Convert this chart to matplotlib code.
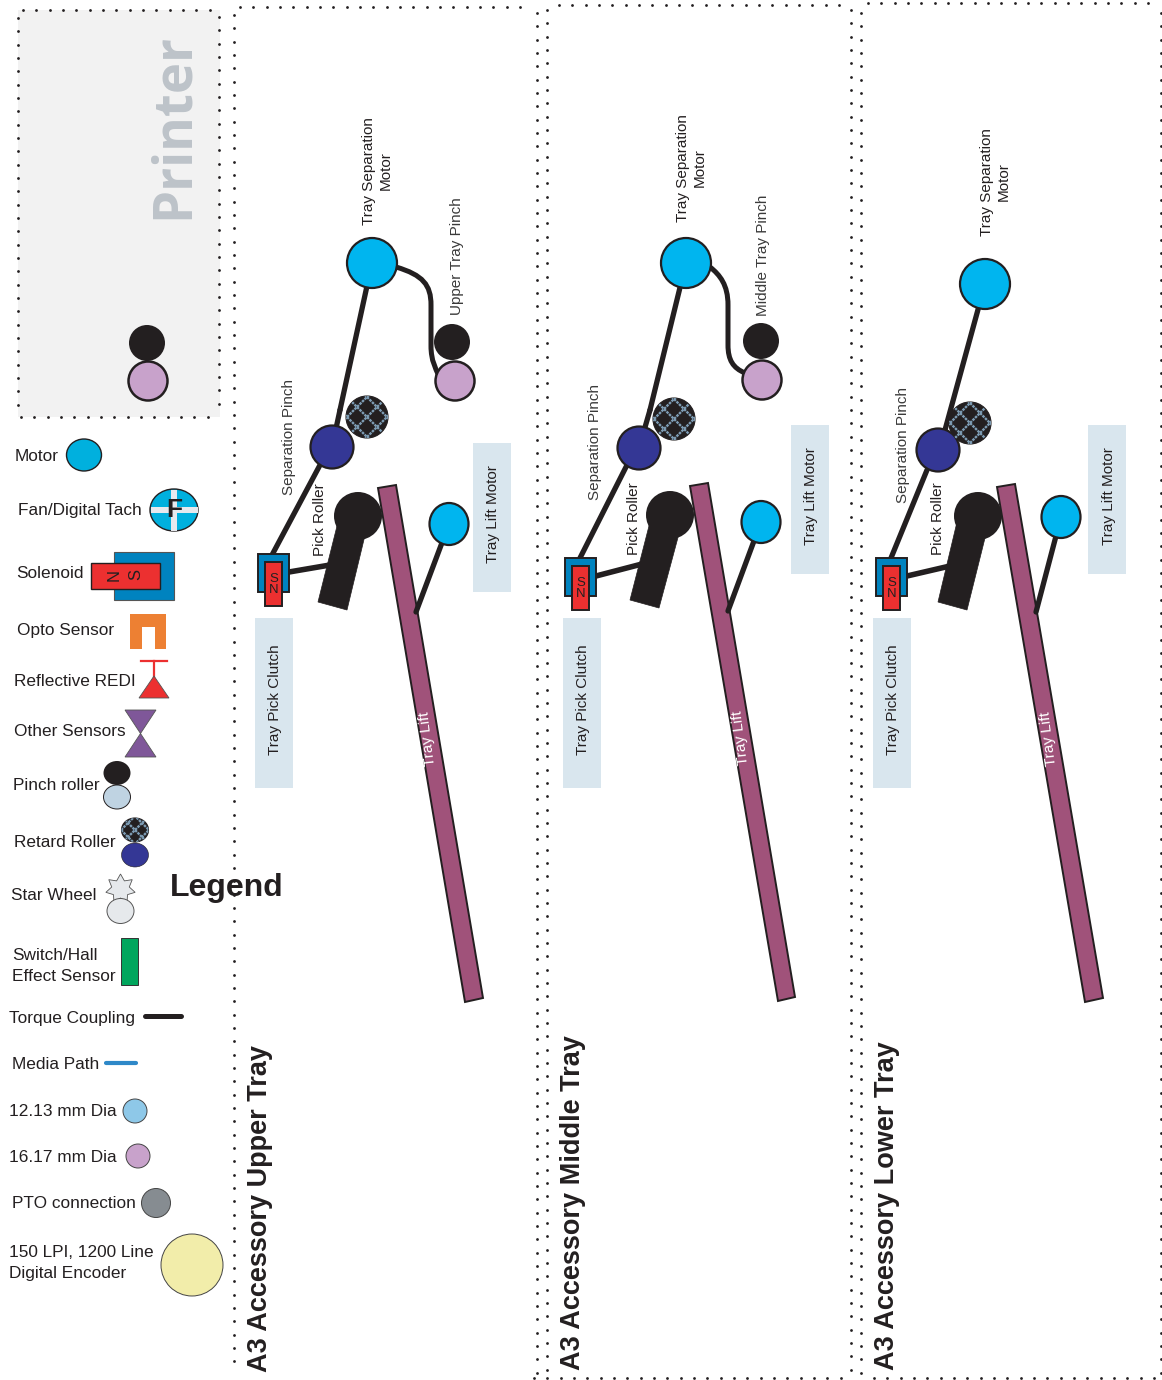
import matplotlib
matplotlib.use('Agg')
import matplotlib.pyplot as plt
import numpy as np
from matplotlib.patches import Ellipse, Polygon, Rectangle, PathPatch
from matplotlib.path import Path

plt.rcParams['font.family'] = ['Liberation Sans', 'DejaVu Sans']

INK = '#231F20'
CYAN = '#00B5EF'
NAVY = '#343795'
MAUVE = '#C8A2CB'
BOX = '#D9E6EE'
LIFT = '#A0527A'
RED = '#EC3030'
BLUE = '#0083BF'

# one entry per tray panel: upper, middle, lower
panel_titles = ['A3 Accessory Upper Tray', 'A3 Accessory Middle Tray', 'A3 Accessory Lower Tray']
title_pos = [(260, 1372), (573, 1370), (887, 1370)]
motor_pos = [(372, 263), (686, 263), (985, 284)]
motor_text_pos = [(377, 171), (691, 168), (995, 182)]
pinch_black = [(452, 342), (761, 341), None]
pinch_mauve = [(455, 381), (762, 380), None]
pinch_labels = ['Upper Tray Pinch', 'Middle Tray Pinch', None]
pinch_label_pos = [(457.5, 315), (763.5, 316), None]
coupling_x = [431, 728, None]
retard_pos = [(332, 447), (639, 448), (938, 450)]
hatch_pos = [(367, 417), (674, 419), (970, 423)]
sep_label_pos = [(289.5, 495), (594.5, 500), (902.5, 503)]
pick_label_pos = [(320, 556), (634, 555), (938, 555)]
sol_x = [258, 565, 876]
sol_y = [554, 558, 558]
pick_pos = [(358, 516), (670, 515), (978, 516)]
pick_body = [[(318, 602), (347, 610), (367, 527), (338, 522)],
             [(630, 600), (659, 608), (680, 530), (650, 522)],
             [(938, 602), (967, 610), (987, 530), (957, 522)]]
clutch_end = [(330, 565), (642, 564), (950, 566)]
lift_bar = [[(378, 488), (396, 485), (483, 998), (465, 1002)],
            [(690, 486), (708, 483), (795, 997), (778, 1001)],
            [(997, 487), (1015, 484), (1103, 998), (1085, 1002)]]
lift_text_pos = [(428, 739), (741, 738), (1049, 739)]
lift_motor = [(449, 524), (761, 522), (1061, 517)]
lift_link_end = [(416, 612), (728, 611), (1036, 612)]
clutch_box_x = [255, 563, 873]
liftm_box = [(473, 443), (791, 425), (1088, 425)]
motor_link_end = [(340, 410), (650, 410), (945, 430)]
sol_link_start = [(320, 465), (627, 465), (927, 470)]
sol_link_end = [(272, 555), (580, 558), (891, 558)]

# dotted frames: x or y of the row, start, stop
dot_vert = [(18, 18, 412), (219, 17, 412), (233.5, 15, 1372), (537, 13, 1372),
            (547, 10, 1372), (851, 10, 1372), (861, 13, 1372), (1161, 13, 1372)]
dot_horz = [(10, 23, 212), (417, 21, 212), (7, 240, 525), (5, 559, 842),
            (3, 868, 1156), (1378, 534, 852), (1378, 874, 1155)]

legend_labels = ['Motor', 'Fan/Digital Tach', 'Solenoid', 'Opto Sensor', 'Reflective REDI',
                 'Other Sensors', 'Pinch roller', 'Retard Roller', 'Star Wheel',
                 'Switch/Hall', 'Effect Sensor', 'Torque Coupling', 'Media Path',
                 '12.13 mm Dia', '16.17 mm Dia', 'PTO connection',
                 '150 LPI, 1200 Line', 'Digital Encoder']
legend_x = [15, 18, 16, 17, 14, 14, 13, 14, 11, 12, 12, 9, 12, 9, 9, 12, 9, 9]
# baselines of the labels
legend_y = [461, 515, 578, 635, 686, 736, 790, 847, 900, 960, 981, 1023, 1069, 1116,
            1162, 1208, 1257, 1278]

fig = plt.figure(figsize=(11.62, 13.8), dpi=100)
ax = fig.add_axes([0, 0, 1, 1])
ax.set_xlim(0, 1162)
ax.set_ylim(1380, 0)
ax.set_aspect('equal')
ax.axis('off')


def blob(xy, r, color, edge=INK, lw=1.6, z=4, ry=None):
    p = Ellipse(xy, 2 * r, 2 * (ry or r), facecolor=color, edgecolor=edge, linewidth=lw, zorder=z)
    ax.add_patch(p)
    return p


def link(a, b, lw=3.8, color=INK, z=3):
    ax.plot([a[0], b[0]], [a[1], b[1]], color=color, lw=lw, solid_capstyle='round', zorder=z)


def hatched(xy, r, ry=None, step=20.0):
    disc = blob(xy, r, INK, lw=0.8, ry=ry)
    for off in np.arange(-2, 3) * step:
        for sign in (1, -1):
            xs = np.array([-30, 30]) + xy[0] + off
            ys = sign * np.array([-30, 30]) + xy[1]
            ln, = ax.plot(xs, ys, color='#7E9DB5', lw=1.7, ls=(0, (1.1, 0.4)), zorder=5)
            ln.set_clip_path(disc)


def vtext(x, y, s, size=11, color=INK, **kw):
    # y is the bottom end of the rotated text
    ax.text(x, y, s, rotation=90, ha='center', va='bottom', fontsize=size, color=color,
            zorder=8, **kw)


# printer box
ax.add_patch(Rectangle((18, 10), 202, 407, facecolor='#F2F2F2', edgecolor='none', zorder=0))
ax.text(174, 219, 'Printer', rotation=90, ha='center', va='bottom', fontsize=38,
        family='Open Sans', fontweight='bold', color='#BDC3C9', zorder=1)
blob((147, 343), 18, INK, lw=0)
blob((148, 381), 19.5, MAUVE, lw=1.8)

# dotted frames
for x, y0, y1 in dot_vert:
    ys = np.arange(y0, y1 + 1, 13.33)
    ax.scatter(np.full(len(ys), x), ys, s=4, color=INK, linewidths=0, zorder=2)
for y, x0, x1 in dot_horz:
    xs = np.arange(x0, x1 + 1, 13.33)
    ax.scatter(xs, np.full(len(xs), y), s=4, color=INK, linewidths=0, zorder=2)

# tray panels
for i in range(3):
    vtext(title_pos[i][0], title_pos[i][1], panel_titles[i], size=19.5, fontweight='bold')

    ax.add_patch(Rectangle((clutch_box_x[i], 618), 38, 170, color=BOX, lw=0, zorder=1))
    vtext(clutch_box_x[i] + 20.5, 755, 'Tray Pick Clutch')
    ax.add_patch(Rectangle(liftm_box[i], 38, 149, color=BOX, lw=0, zorder=1))
    vtext(liftm_box[i][0] + 20.5, liftm_box[i][1] + 120, 'Tray Lift Motor')

    # motor and links
    link(motor_pos[i], motor_link_end[i])
    link(motor_link_end[i], retard_pos[i])
    link(sol_link_start[i], sol_link_end[i])
    blob(motor_pos[i], 25, CYAN)
    ax.text(motor_text_pos[i][0], motor_text_pos[i][1], 'Tray Separation\nMotor', rotation=90,
            ha='center', va='center', multialignment='center', fontsize=11, color=INK,
            linespacing=1.25, zorder=8)

    if pinch_black[i] is not None:
        mx, my = motor_pos[i]
        bx, by = pinch_mauve[i]
        cx = coupling_x[i]
        verts = [(mx + 24, my + 4), (cx - 8, my + 12), (cx, my + 22), (cx, my + 42),
                 (cx, my + 55), (cx, by - 48), (cx, by - 35),
                 (cx, by - 20), (cx + 5, by - 12), (bx - 17, by - 7)]
        codes = [Path.MOVETO] + [Path.CURVE4] * 9
        ax.add_patch(PathPatch(Path(verts, codes), facecolor='none', edgecolor=INK, lw=3.6, zorder=3))
        blob(pinch_black[i], 18, INK, lw=0)
        blob(pinch_mauve[i], 19.5, MAUVE, lw=1.8)
        vtext(pinch_label_pos[i][0], pinch_label_pos[i][1], pinch_labels[i], color='#3A3A3A')

    hatched(hatch_pos[i], 21)
    blob(retard_pos[i], 21.5, NAVY)
    vtext(sep_label_pos[i][0], sep_label_pos[i][1], 'Separation Pinch', color='#3A3A3A')
    vtext(pick_label_pos[i][0], pick_label_pos[i][1], 'Pick Roller')

    # solenoid and pick roller
    sx, sy = sol_x[i], sol_y[i]
    link((sx + 31, sy + 18), clutch_end[i], lw=4)
    ax.add_patch(Rectangle((sx, sy), 31, 38, facecolor=BLUE, edgecolor=INK, lw=1.4, zorder=5))
    ax.add_patch(Rectangle((sx + 7, sy + 8), 17, 44, facecolor=RED, edgecolor=INK, lw=1.4, zorder=6))
    ax.text(sx + 15.5, sy + 25, 'S', ha='center', va='center', fontsize=9.5, color=INK, zorder=7)
    ax.text(sx + 15.5, sy + 36, 'N', ha='center', va='center', fontsize=9.5, color=INK, zorder=7)
    ax.add_patch(Polygon(pick_body[i], closed=True, facecolor=INK, edgecolor=INK, lw=0.5, zorder=4))
    blob(pick_pos[i], 24, INK, lw=0)

    # tray lift
    link(lift_motor[i], lift_link_end[i], z=5)
    ax.add_patch(Polygon(lift_bar[i], closed=True, facecolor=LIFT, edgecolor=INK, lw=1.4, zorder=4))
    blob(lift_motor[i], 19.5, CYAN, ry=21, z=6)
    ax.text(lift_text_pos[i][0], lift_text_pos[i][1], 'Tray Lift', rotation=97, ha='center',
            va='center', fontsize=11, color='white', zorder=8)

# legend
ax.text(170, 888, 'Legend', fontsize=23, fontweight='bold', color=INK, va='center', zorder=8)
for label, x, y in zip(legend_labels, legend_x, legend_y):
    ax.text(x, y, label, fontsize=12.45, color=INK, va='baseline', zorder=8)

blob((84, 455), 17.5, '#00B0DE', lw=1, ry=16)

blob((174, 510), 24, '#00B0DE', lw=1, ry=21)
ax.add_patch(Rectangle((171, 490), 6, 41, color='#E6E9EE', lw=0, zorder=5))
ax.add_patch(Rectangle((151, 507), 47, 6, color='#E6E9EE', lw=0, zorder=5))
ax.text(174, 510, 'F', fontsize=19, fontweight='bold', color=INK, ha='center', va='center', zorder=6)

ax.add_patch(Rectangle((114, 552), 60, 48, facecolor=BLUE, edgecolor='#555555', lw=0.8, zorder=4))
ax.add_patch(Rectangle((91, 563), 69, 26, facecolor=RED, edgecolor=INK, lw=1, zorder=5))
ax.text(114, 575, 'N', rotation=90, fontsize=12, color=INK, ha='center', va='center', zorder=6)
ax.text(136, 575, 'S', rotation=90, fontsize=12, color=INK, ha='center', va='center', zorder=6)

ax.add_patch(Polygon([(130, 614), (166, 614), (166, 649), (155, 649), (155, 627), (142, 627),
                      (142, 649), (130, 649)], closed=True, color='#ED8033', lw=0, zorder=4))

ax.plot([141, 167], [661, 661], color=RED, lw=1.6, zorder=4)
ax.plot([154, 154], [661, 678], color=RED, lw=1.6, zorder=4)
ax.add_patch(Polygon([(139, 698), (169, 698), (154, 676)], closed=True, facecolor=RED,
                     edgecolor='#555555', lw=0.6, zorder=5))

ax.add_patch(Polygon([(125, 710), (156, 710), (125, 757), (156, 757)], closed=True,
                     facecolor='#7F5799', edgecolor='#555555', lw=0.6, zorder=4))

blob((117, 773), 13.5, INK, lw=0, ry=12)
blob((117, 797), 13.5, '#BFD3E2', lw=0.7, ry=12)
hatched((135, 830), 13.5, ry=12, step=14)
blob((135, 855), 13.5, NAVY, lw=0.4, ry=12)

ang = np.deg2rad(np.arange(0, 360, 360 / 14) - 90)
rad = np.where(np.arange(14) % 2 == 0, 15, 9)
ax.add_patch(Polygon(np.c_[120.5 + rad * np.cos(ang), 889 + rad * np.sin(ang)], closed=True,
                     facecolor='#E6E9EC', edgecolor='#555555', lw=0.6, zorder=4))
blob((120.5, 911), 13.5, '#E6E9EC', edge='#555555', lw=0.7, ry=12.5, z=5)

ax.add_patch(Rectangle((121, 938), 17, 47, facecolor='#00A65D', edgecolor='#333333', lw=0.7, zorder=4))
link((145, 1016), (181, 1016), lw=3.6)
link((106, 1063), (136, 1063), lw=3, color='#2E88C8')
blob((135, 1111), 12, '#8EC8E8', edge='#444444', lw=0.7)
blob((138, 1156), 12, MAUVE, edge='#444444', lw=0.7)
blob((156, 1203), 14.5, '#868C91', edge='#444444', lw=0.7)
blob((192, 1265), 31, '#F2EDAA', edge='#444444', lw=0.7)

fig.savefig('out.png', dpi=100)
